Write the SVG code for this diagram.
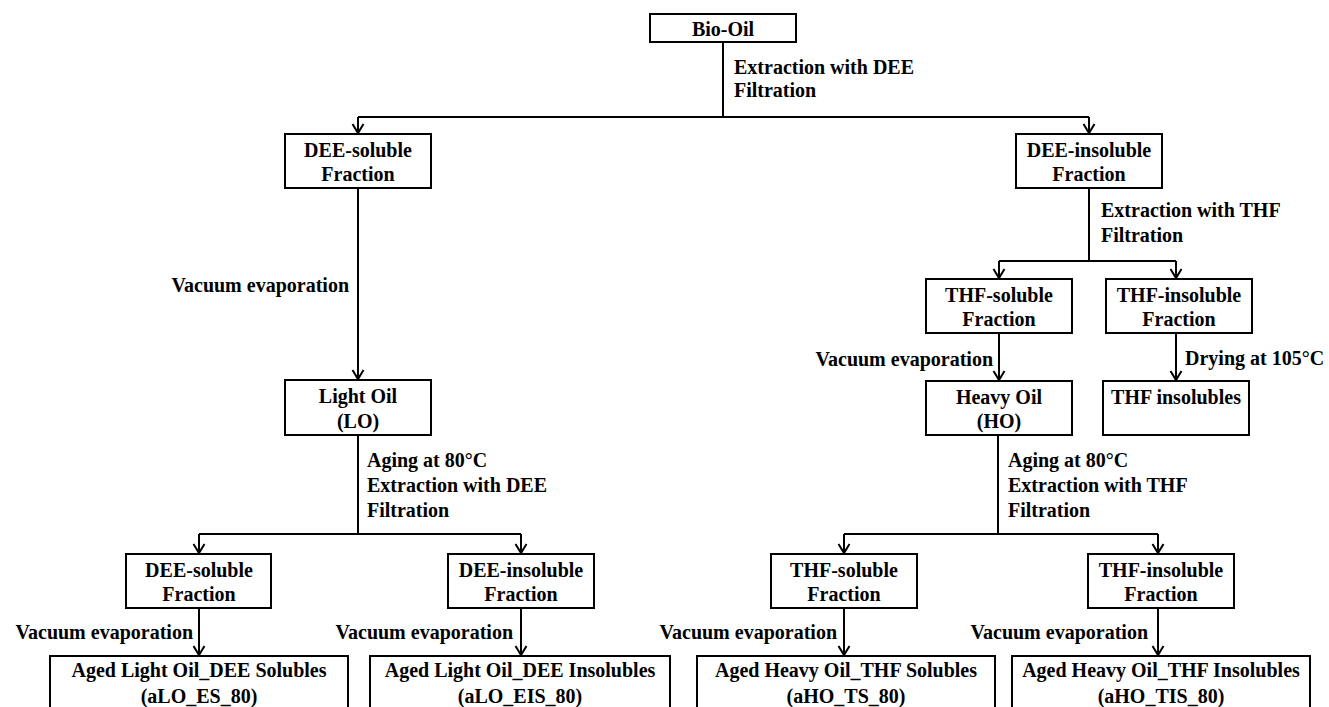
<svg xmlns="http://www.w3.org/2000/svg" width="1329" height="707" viewBox="0 0 1329 707">
<style>
.box{fill:#fff;stroke:#000;stroke-width:2}
.t{font-family:"Liberation Serif","Times New Roman",serif;font-weight:bold;font-size:20px;fill:#000}
.c{text-anchor:middle}
.e{text-anchor:end}
.ln{fill:none;stroke:#000;stroke-width:2}
.ar{fill:none;stroke:#000;stroke-width:2;marker-end:url(#arr)}
</style>
<defs>
<marker id="arr" markerUnits="userSpaceOnUse" markerWidth="20" markerHeight="20" refX="0" refY="0" orient="auto" overflow="visible">
<path d="M-9,-5.5 L0,0 L-9,5.5" fill="none" stroke="#000" stroke-width="2"/>
</marker>
</defs>
<rect width="1329" height="707" fill="#fff"/>
<g id="connectors">
<path class="ln" d="M723,42 V117 M358,117 H1089"/>
<path class="ar" d="M358,117 V133"/>
<path class="ar" d="M1089,117 V133"/>
<path class="ar" d="M358,188 V379"/>
<path class="ln" d="M1089,188 V261 M999,261 H1176"/>
<path class="ar" d="M999,261 V278"/>
<path class="ar" d="M1176,261 V278"/>
<path class="ar" d="M999,333 V380"/>
<path class="ar" d="M1176,333 V380"/>
<path class="ln" d="M358,435 V534 M199,534 H521"/>
<path class="ar" d="M199,534 V553"/>
<path class="ar" d="M521,534 V553"/>
<path class="ln" d="M998,435 V534 M844,534 H1158"/>
<path class="ar" d="M844,534 V553"/>
<path class="ar" d="M1158,534 V553"/>
<path class="ar" d="M199,608 V655"/>
<path class="ar" d="M521,608 V655"/>
<path class="ar" d="M844,608 V655"/>
<path class="ar" d="M1158,608 V655"/>
<text class="t" x="734" y="74">Extraction with DEE</text>
<text class="t" x="734" y="97">Filtration</text>
<text class="t e" x="349" y="292">Vacuum evaporation</text>
<text class="t" x="1101" y="217">Extraction with THF</text>
<text class="t" x="1101" y="242">Filtration</text>
<text class="t e" x="993" y="366">Vacuum evaporation</text>
<text class="t" x="1185" y="365">Drying at 105°C</text>
<text class="t" x="367" y="467">Aging at 80°C</text>
<text class="t" x="367" y="492">Extraction with DEE</text>
<text class="t" x="367" y="517">Filtration</text>
<text class="t" x="1008" y="467">Aging at 80°C</text>
<text class="t" x="1008" y="492">Extraction with THF</text>
<text class="t" x="1008" y="517">Filtration</text>
<text class="t e" x="193" y="639">Vacuum evaporation</text>
<text class="t e" x="513" y="639">Vacuum evaporation</text>
<text class="t e" x="837" y="639">Vacuum evaporation</text>
<text class="t e" x="1148" y="639">Vacuum evaporation</text>
</g>
<g id="bio-oil"><rect class="box" x="650" y="14" width="146" height="28"/><text class="t c" x="723" y="36">Bio-Oil</text></g>
<g id="dee-soluble"><rect class="box" x="285" y="134" width="146" height="54"/><text class="t c" x="358" y="157">DEE-soluble</text><text class="t c" x="358" y="181">Fraction</text></g>
<g id="dee-insoluble"><rect class="box" x="1016" y="134" width="146" height="54"/><text class="t c" x="1089" y="157">DEE-insoluble</text><text class="t c" x="1089" y="181">Fraction</text></g>
<g id="thf-soluble"><rect class="box" x="926" y="279" width="146" height="54"/><text class="t c" x="999" y="302">THF-soluble</text><text class="t c" x="999" y="326">Fraction</text></g>
<g id="thf-insoluble"><rect class="box" x="1106" y="279" width="146" height="54"/><text class="t c" x="1179" y="302">THF-insoluble</text><text class="t c" x="1179" y="326">Fraction</text></g>
<g id="light-oil"><rect class="box" x="285" y="380" width="146" height="55"/><text class="t c" x="358" y="403">Light Oil</text><text class="t c" x="358" y="428">(LO)</text></g>
<g id="heavy-oil"><rect class="box" x="926" y="381" width="146" height="54"/><text class="t c" x="999" y="404">Heavy Oil</text><text class="t c" x="999" y="428">(HO)</text></g>
<g id="thf-insolubles"><rect class="box" x="1103" y="381" width="146" height="54"/><text class="t c" x="1176" y="404">THF insolubles</text></g>
<g id="lo-dee-soluble"><rect class="box" x="126" y="554" width="145" height="54"/><text class="t c" x="199" y="577">DEE-soluble</text><text class="t c" x="199" y="601">Fraction</text></g>
<g id="lo-dee-insoluble"><rect class="box" x="448" y="554" width="146" height="54"/><text class="t c" x="521" y="577">DEE-insoluble</text><text class="t c" x="521" y="601">Fraction</text></g>
<g id="ho-thf-soluble"><rect class="box" x="771" y="554" width="146" height="54"/><text class="t c" x="844" y="577">THF-soluble</text><text class="t c" x="844" y="601">Fraction</text></g>
<g id="ho-thf-insoluble"><rect class="box" x="1088" y="554" width="146" height="54"/><text class="t c" x="1161" y="577">THF-insoluble</text><text class="t c" x="1161" y="601">Fraction</text></g>
<g id="alo-es"><rect class="box" x="50" y="656" width="298" height="60"/><text class="t c" x="199" y="677">Aged Light Oil_DEE Solubles</text><text class="t c" x="199" y="703">(aLO_ES_80)</text></g>
<g id="alo-eis"><rect class="box" x="370" y="656" width="300" height="60"/><text class="t c" x="520" y="677">Aged Light Oil_DEE Insolubles</text><text class="t c" x="520" y="703">(aLO_EIS_80)</text></g>
<g id="aho-ts"><rect class="box" x="697" y="656" width="298" height="60"/><text class="t c" x="846" y="677">Aged Heavy Oil_THF Solubles</text><text class="t c" x="846" y="703">(aHO_TS_80)</text></g>
<g id="aho-tis"><rect class="box" x="1012" y="656" width="298" height="60"/><text class="t c" x="1161" y="677">Aged Heavy Oil_THF Insolubles</text><text class="t c" x="1161" y="703">(aHO_TIS_80)</text></g>
</svg>
